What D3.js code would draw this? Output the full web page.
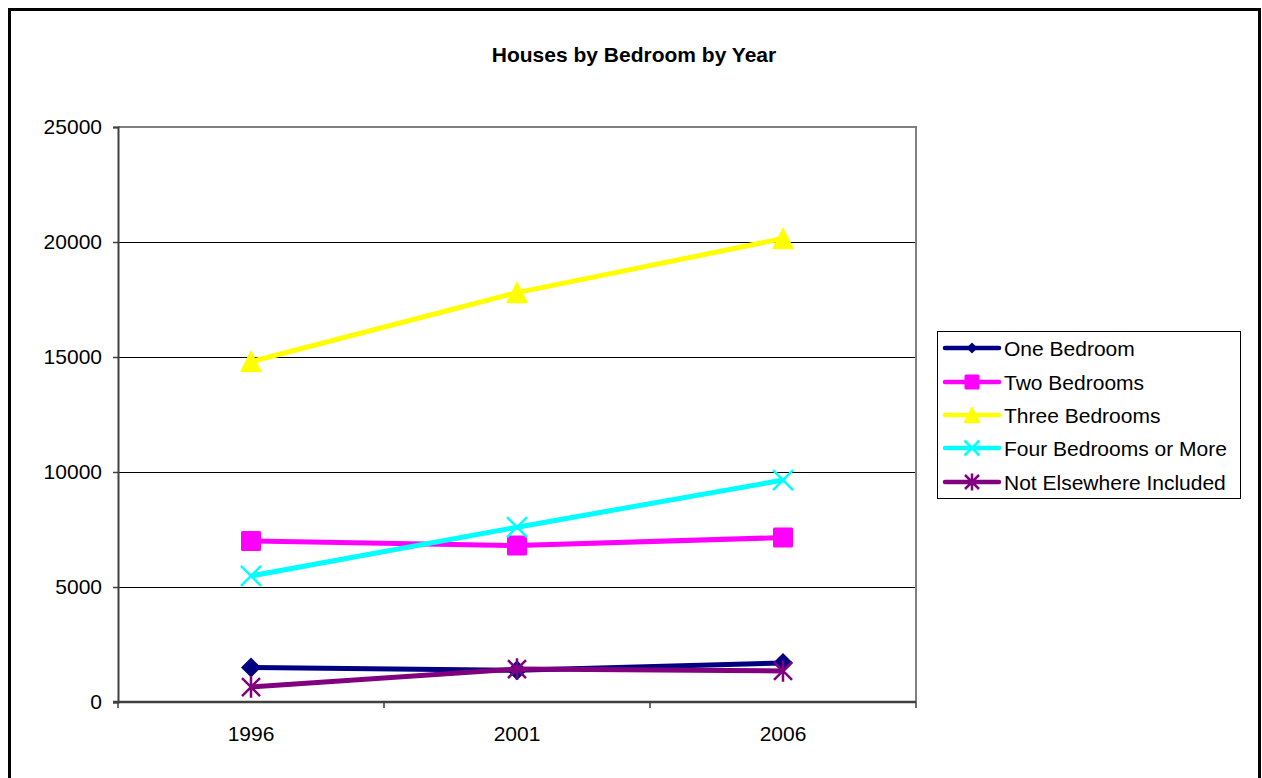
<!DOCTYPE html>
<html>
<head>
<meta charset="utf-8">
<script src="https://cdn.jsdelivr.net/npm/d3@7"></script>
<style>
  html, body { margin: 0; padding: 0; background: #fff; }
  svg { display: block; font-family: "Liberation Sans", Arial, sans-serif; }
</style>
</head>
<body>
<svg id="chart" width="1262" height="778"></svg>
<script>
// Census years on the category axis
const years = ["1996", "2001", "2006"];

// Number of houses per bedroom count
const oneBedroom = [1500, 1380, 1700];
const twoBedrooms = [7000, 6800, 7150];
const threeBedrooms = [14800, 17800, 20150];
const fourOrMore = [5480, 7600, 9650];
const notElsewhere = [650, 1430, 1350];

const seriesNames = ["One Bedroom", "Two Bedrooms", "Three Bedrooms", "Four Bedrooms or More", "Not Elsewhere Included"];
const seriesValues = [oneBedroom, twoBedrooms, threeBedrooms, fourOrMore, notElsewhere];
const seriesColors = ["#000080", "#FF00FF", "#FFFF00", "#00FFFF", "#800080"];
const seriesMarkers = ["diamond", "square", "triangle", "cross", "star"];

const yTicks = [0, 5000, 10000, 15000, 20000, 25000];

const FONT = "'Liberation Sans', Arial, sans-serif";
const svg = d3.select("#chart");

// Outer chart frame
svg.append("rect")
  .attr("x", 9.5).attr("y", 9.5)
  .attr("width", 1250).attr("height", 800)
  .attr("fill", "none").attr("stroke", "#000").attr("stroke-width", 3);

// Title
svg.append("text")
  .attr("x", 634).attr("y", 62)
  .attr("text-anchor", "middle")
  .attr("font-size", 21).attr("font-weight", "bold")
  .text("Houses by Bedroom by Year");

const plot = { left: 118, top: 127, right: 916, bottom: 702 };

const x = d3.scaleBand().domain(years).range([plot.left, plot.right]).padding(0);
const y = d3.scaleLinear().domain([0, 25000]).range([plot.bottom, plot.top]);
const xc = d => x(d) + x.bandwidth() / 2;

// Horizontal gridlines
svg.append("g")
  .selectAll("line")
  .data(yTicks.filter(t => t > 0 && t < 25000))
  .join("line")
  .attr("x1", plot.left).attr("x2", plot.right)
  .attr("y1", d => Math.round(y(d)) + 0.5).attr("y2", d => Math.round(y(d)) + 0.5)
  .attr("stroke", "#000").attr("stroke-width", 1);

// Plot area border (top and right)
svg.append("path")
  .attr("d", `M${plot.left},${plot.top} H${plot.right} V${plot.bottom}`)
  .attr("fill", "none").attr("stroke", "#808080").attr("stroke-width", 2);

// Y axis
const yAxis = d3.axisLeft(y).tickValues(yTicks).tickSize(5).tickPadding(11).tickFormat(d3.format("d"));
const gy = svg.append("g").attr("transform", `translate(${plot.left},0)`).call(yAxis);
gy.attr("font-size", 21).attr("font-family", FONT);
gy.select(".domain").attr("stroke", "#404040").attr("stroke-width", 2);
gy.selectAll(".tick line").attr("stroke", "#404040").attr("stroke-width", 1.5);
gy.selectAll(".tick text").attr("fill", "#000");

// X axis with ticks at category boundaries
const gx = svg.append("g").attr("transform", `translate(0,${plot.bottom})`);
gx.append("line")
  .attr("x1", plot.left - 5).attr("x2", plot.right)
  .attr("stroke", "#404040").attr("stroke-width", 2.5);
const boundaries = years.map(d => x(d)).concat([x(years[years.length - 1]) + x.bandwidth()]);
gx.selectAll("line.tick")
  .data(boundaries)
  .join("line").attr("class", "tick")
  .attr("x1", d => d).attr("x2", d => d)
  .attr("y1", 0).attr("y2", 6)
  .attr("stroke", "#404040").attr("stroke-width", 1.5);
gx.selectAll("text")
  .data(years)
  .join("text")
  .attr("x", d => xc(d)).attr("y", 39)
  .attr("text-anchor", "middle").attr("font-size", 21)
  .text(d => d);

// Marker shapes
function marker(g, type, color, s) {
  if (type === "diamond") {
    g.append("path").attr("d", `M0,${-s} L${s},0 L0,${s} L${-s},0 Z`).attr("fill", color);
  } else if (type === "square") {
    g.append("rect").attr("x", -s).attr("y", -s).attr("width", 2 * s).attr("height", 2 * s)
      .attr("rx", 1.5).attr("fill", color);
  } else if (type === "triangle") {
    g.append("path").attr("d", `M0,${-s} L${s},${s} L${-s},${s} Z`)
      .attr("fill", color).attr("stroke", color).attr("stroke-width", 1.5).attr("stroke-linejoin", "round");
  } else if (type === "cross") {
    g.append("path").attr("d", `M${-s},${-s} L${s},${s} M${-s},${s} L${s},${-s}`)
      .attr("stroke", color).attr("stroke-width", 2.5).attr("fill", "none");
  } else if (type === "star") {
    g.append("path").attr("d", `M${-s},${-s} L${s},${s} M${-s},${s} L${s},${-s} M0,${-s * 1.2} V${s * 1.2}`)
      .attr("stroke", color).attr("stroke-width", 2.5).attr("fill", "none");
  }
}
const markerSize = [10, 10, 10, 10, 9];
const legendMarkerSize = [5.5, 7.5, 7.5, 7.5, 7];

const line = d3.line().x((d, i) => xc(years[i])).y(d => y(d));

seriesValues.forEach((vals, si) => {
  const g = svg.append("g");
  g.append("path")
    .attr("d", line(vals))
    .attr("fill", "none")
    .attr("stroke", seriesColors[si])
    .attr("stroke-width", 5)
    .attr("stroke-linejoin", "round");
  vals.forEach((v, i) => {
    const m = g.append("g").attr("transform", `translate(${xc(years[i])},${y(v)})`);
    marker(m, seriesMarkers[si], seriesColors[si], markerSize[si]);
  });
});

// Legend
const legend = svg.append("g");
legend.append("rect")
  .attr("x", 937.5).attr("y", 331.5).attr("width", 303).attr("height", 167)
  .attr("fill", "#fff").attr("stroke", "#000").attr("stroke-width", 1);
const legendY = [348, 382, 415, 448, 482];
seriesNames.forEach((name, si) => {
  const ly = legendY[si];
  legend.append("line")
    .attr("x1", 945).attr("x2", 999).attr("y1", ly).attr("y2", ly)
    .attr("stroke", seriesColors[si]).attr("stroke-width", 4.5).attr("stroke-linecap", "round");
  const m = legend.append("g").attr("transform", `translate(972,${ly})`);
  marker(m, seriesMarkers[si], seriesColors[si], legendMarkerSize[si]);
  legend.append("text")
    .attr("x", 1004).attr("y", ly + 7.5)
    .attr("font-size", 21)
    .text(name);
});
</script>
</body>
</html>
